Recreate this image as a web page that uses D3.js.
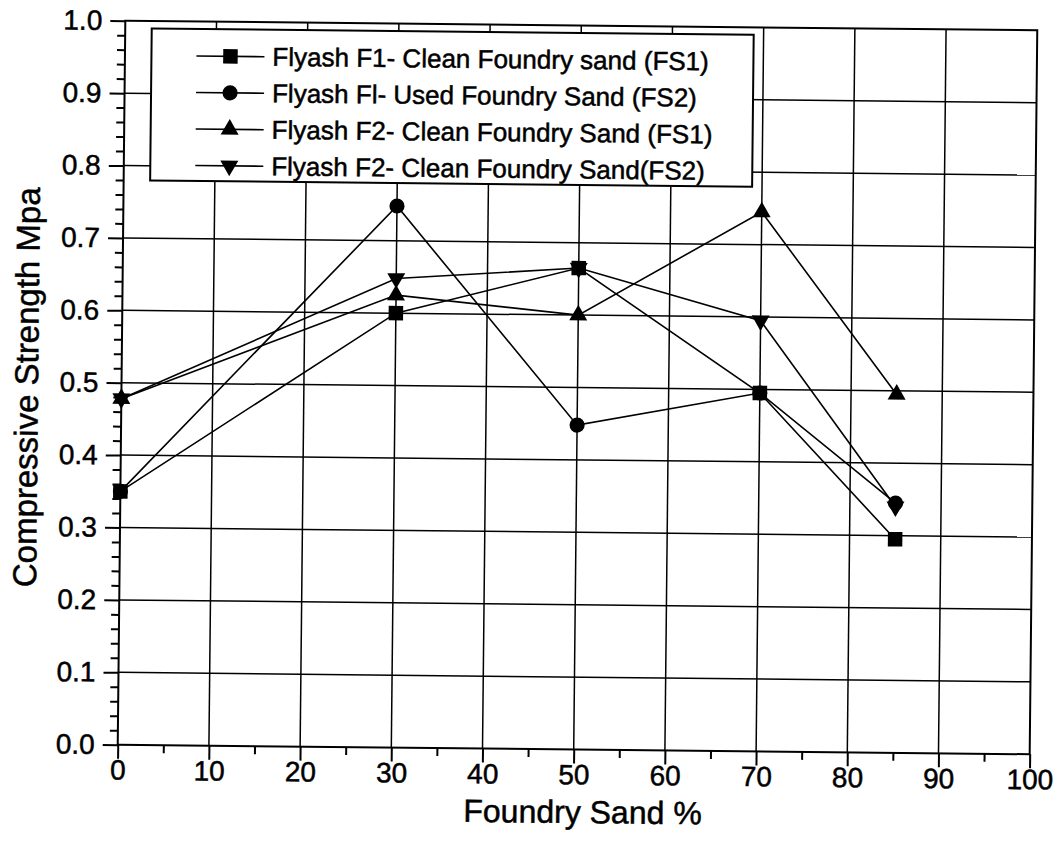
<!DOCTYPE html>
<html>
<head>
<meta charset="utf-8">
<script src="https://cdn.jsdelivr.net/npm/d3@7"></script>
<style>
  body { margin: 0; background: #fff; }
  text { font-family: "Liberation Sans", Arial, sans-serif; fill: #000; stroke: #000; stroke-width: 0.5px; }
</style>
</head>
<body>
<div id="chart"></div>
<script>
// data
const sandPct = [0, 30, 50, 70, 85]
const f1CleanFS1 = [0.35, 0.60, 0.665, 0.495, 0.295]
const f1UsedFS2 = [0.35, 0.748, 0.448, 0.495, 0.345]
const f2CleanFS1 = [0.478, 0.625, 0.60, 0.745, 0.495]
const f2CleanFS2 = [0.478, 0.648, 0.665, 0.595, 0.34]
const seriesNames = [
  "Flyash F1- Clean Foundry sand (FS1)",
  "Flyash Fl- Used Foundry Sand (FS2)",
  "Flyash F2- Clean Foundry Sand (FS1)",
  "Flyash F2- Clean Foundry Sand(FS2)"
]
const xTicks = [0, 10, 20, 30, 40, 50, 60, 70, 80, 90, 100]
const yTicks = [0, 0.1, 0.2, 0.3, 0.4, 0.5, 0.6, 0.7, 0.8, 0.9, 1.0]

const series = [
  { name: seriesNames[0], values: f1CleanFS1, shape: "square" },
  { name: seriesNames[1], values: f1UsedFS2, shape: "circle" },
  { name: seriesNames[2], values: f2CleanFS1, shape: "up" },
  { name: seriesNames[3], values: f2CleanFS2, shape: "down" }
]

const dimensions = {
  width: 1060,
  height: 855,
  margin: { top: 25.5, right: 26.5, bottom: 105.5, left: 121.5 }
}
dimensions.boundedWidth = dimensions.width - dimensions.margin.left - dimensions.margin.right
dimensions.boundedHeight = dimensions.height - dimensions.margin.top - dimensions.margin.bottom

const svg = d3.select("#chart").append("svg")
  .attr("width", dimensions.width)
  .attr("height", dimensions.height)

// the scan is slightly rotated
const cx = dimensions.margin.left + dimensions.boundedWidth / 2
const cy = dimensions.margin.top + dimensions.boundedHeight / 2
const page = svg.append("g")
  .attr("transform", `rotate(0.6, ${cx}, ${cy})`)

const bounds = page.append("g")
  .attr("transform", `translate(${dimensions.margin.left},${dimensions.margin.top})`)

const xScale = d3.scaleLinear().domain([0, 100]).range([0, dimensions.boundedWidth])
const yScale = d3.scaleLinear().domain([0, 1]).range([dimensions.boundedHeight, 0])

// grid
bounds.append("g")
  .selectAll("line")
  .data(xTicks.slice(1, -1))
  .join("line")
    .attr("x1", d => xScale(d)).attr("x2", d => xScale(d))
    .attr("y1", 0).attr("y2", dimensions.boundedHeight)
    .attr("stroke", "#000").attr("stroke-width", 1.5)

bounds.append("g")
  .selectAll("line")
  .data(yTicks.slice(1, -1))
  .join("line")
    .attr("x1", 0).attr("x2", dimensions.boundedWidth)
    .attr("y1", d => yScale(d)).attr("y2", d => yScale(d))
    .attr("stroke", "#000").attr("stroke-width", 1.5)

// frame
bounds.append("rect")
  .attr("width", dimensions.boundedWidth)
  .attr("height", dimensions.boundedHeight)
  .attr("fill", "none")
  .attr("stroke", "#000")
  .attr("stroke-width", 2)

// axes
const xAxis = bounds.append("g")
  .attr("transform", `translate(0,${dimensions.boundedHeight})`)
  .call(d3.axisBottom(xScale).tickValues(xTicks).tickSize(14).tickPadding(1))
xAxis.append("g")
  .call(d3.axisBottom(xScale).tickValues(d3.range(5, 100, 10)).tickSize(8).tickFormat(""))

const yAxis = bounds.append("g")
  .call(d3.axisLeft(yScale).tickValues(yTicks).tickSize(15).tickPadding(8).tickFormat(d3.format(".1f")))
yAxis.append("g")
  .call(d3.axisLeft(yScale).tickValues(d3.range(0.02, 1, 0.02).filter(d => Math.round(d * 50) % 5 !== 0)).tickSize(8).tickFormat(""))

bounds.selectAll(".domain").remove()
bounds.selectAll(".tick line").attr("stroke", "#000").attr("stroke-width", 2)
bounds.selectAll(".tick text")
  .style("font-size", "28px")
  .style("font-family", "'Liberation Sans', Arial, sans-serif")
  .attr("fill", "#000")

// axis titles
page.append("text")
  .attr("x", 587)
  .attr("y", 823)
  .attr("text-anchor", "middle")
  .style("font-size", "32px")
  .text("Foundry Sand %")

page.append("text")
  .attr("transform", `translate(38,393) rotate(-90)`)
  .attr("text-anchor", "middle")
  .style("font-size", "33px")
  .text("Compressive Strength Mpa")

// markers
const symbolFor = {
  square: d3.symbol(d3.symbolSquare, 210),
  circle: d3.symbol(d3.symbolCircle, 180),
  up: d3.symbol(d3.symbolTriangle, 140),
  down: d3.symbol(d3.symbolTriangle, 140)
}
const rot = shape => shape === "down" ? " rotate(180)" : ""

const lineGenerator = d3.line()
  .x((d, i) => xScale(sandPct[i]))
  .y(d => yScale(d))

const drawOrder = [series[1], series[0], series[2], series[3]]

bounds.append("g")
  .selectAll("path")
  .data(drawOrder)
  .join("path")
    .attr("d", d => lineGenerator(d.values))
    .attr("fill", "none")
    .attr("stroke", "#000")
    .attr("stroke-width", 1.6)

drawOrder.forEach(s => {
  bounds.append("g")
    .selectAll("path")
    .data(s.values)
    .join("path")
      .attr("transform", (d, i) => `translate(${xScale(sandPct[i])},${yScale(d)})${rot(s.shape)}`)
      .attr("d", symbolFor[s.shape]())
      .attr("fill", "#000")
})

// legend
const legend = page.append("g")
  .attr("transform", "translate(148,33)")

legend.append("rect")
  .attr("width", 602)
  .attr("height", 152)
  .attr("fill", "#fff")
  .attr("stroke", "#000")
  .attr("stroke-width", 2)

const entries = legend.selectAll(".legendEntry")
  .data(series)
  .join("g")
    .attr("class", "legendEntry")
    .attr("transform", (d, i) => `translate(0,${27 + i * 36.5})`)

entries.append("line")
  .attr("x1", 45).attr("x2", 113)
  .attr("stroke", "#000").attr("stroke-width", 1.6)

entries.append("path")
  .attr("transform", d => `translate(79,0)${rot(d.shape)}`)
  .attr("d", d => symbolFor[d.shape]())
  .attr("fill", "#000")

entries.append("text")
  .attr("x", 121)
  .attr("y", 9)
  .style("font-size", "26px")
  .text(d => d.name)
</script>
</body>
</html>
